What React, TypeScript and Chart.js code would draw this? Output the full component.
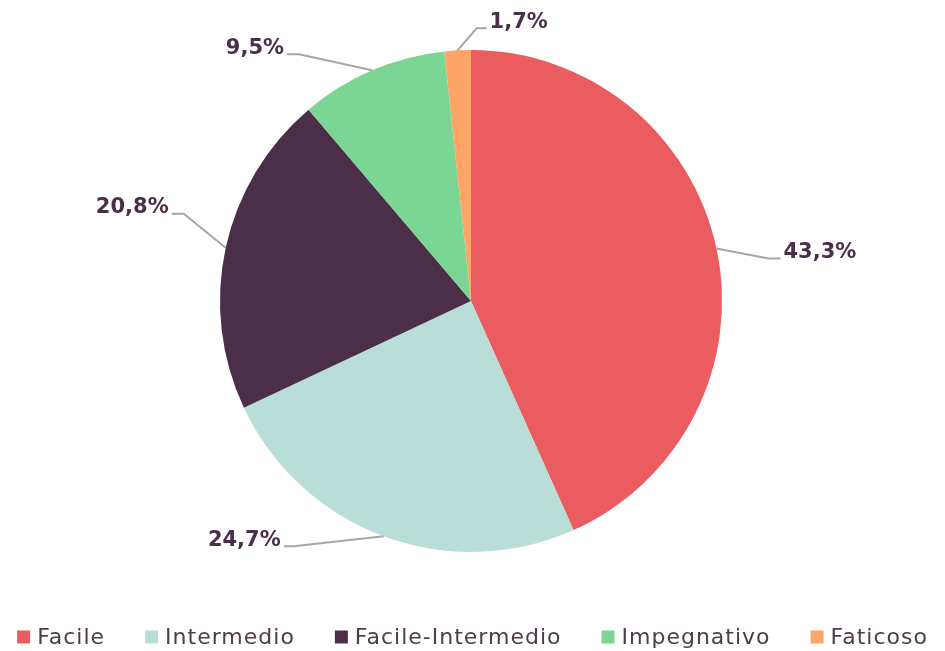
import React, { useEffect, useRef } from "react";
import { Chart, registerables } from "chart.js";

Chart.register(...registerables);

const categories = ["Facile", "Intermedio", "Facile-Intermedio", "Impegnativo", "Faticoso"];
const values = [43.3, 24.7, 20.8, 9.5, 1.7];
const valueLabels = ["43,3%", "24,7%", "20,8%", "9,5%", "1,7%"];
const colors = ["#EA5C5F", "#B8DED7", "#4B2F48", "#7BD594", "#FDA567"];

// leader-line layout (elbow offset from slice edge, tail length and side)
const leaderDx = [52, -90, -42, -73, 19];
const leaderDy = [10, 10, -34, -16, -22];
const leaderTail = [12, 10, 12, 12, 10];
const leaderSide = [1, -1, -1, -1, 1];

const TEXT_COLOR = "#4A2F48";
const LEGEND_COLOR = "#4E3D4C";

const labelPlugin = {
  id: "leaderLabels",
  afterDatasetsDraw(chart: any) {
    const ctx = chart.ctx;
    const meta = chart.getDatasetMeta(0);
    ctx.save();
    try {
      (ctx as any).letterSpacing = "0px";
    } catch (e) {}
    meta.data.forEach((arc: any, i: number) => {
      const { x, y, startAngle, endAngle, outerRadius } = arc.getProps(
        ["x", "y", "startAngle", "endAngle", "outerRadius"],
        true
      );
      const mid = (startAngle + endAngle) / 2;
      const ex = x + Math.cos(mid) * outerRadius;
      const ey = y + Math.sin(mid) * outerRadius;
      const bx = ex + leaderDx[i];
      const by = ey + leaderDy[i];
      const tx = bx + leaderSide[i] * leaderTail[i];
      ctx.beginPath();
      ctx.moveTo(ex, ey);
      ctx.lineTo(bx, by);
      ctx.lineTo(tx, by);
      ctx.strokeStyle = "#A6A6A6";
      ctx.lineWidth = 2;
      ctx.stroke();
      ctx.font = "bold 21px 'DejaVu Sans'";
      ctx.fillStyle = TEXT_COLOR;
      ctx.textBaseline = "middle";
      ctx.textAlign = leaderSide[i] > 0 ? "left" : "right";
      ctx.fillText(valueLabels[i], tx + leaderSide[i] * 3, by - 6);
    });
    ctx.restore();
  },
};

const legendPlugin = {
  id: "customLegend",
  afterDraw(chart: any) {
    const ctx = chart.ctx;
    ctx.save();
    ctx.font = "22px 'DejaVu Sans'";
    try {
      (ctx as any).letterSpacing = "1px";
    } catch (e) {}
    const box = 13;
    const boxGap = 7;
    const itemGap = 40;
    const widths = categories.map((c) => ctx.measureText(c).width);
    const total =
      widths.reduce((a, b) => a + b, 0) +
      categories.length * (box + boxGap) +
      (categories.length - 1) * itemGap;
    let x = (chart.width - total) / 2;
    const yMid = 637;
    categories.forEach((c, i) => {
      ctx.fillStyle = colors[i];
      ctx.fillRect(x, yMid - box / 2, box, box);
      x += box + boxGap;
      ctx.fillStyle = LEGEND_COLOR;
      ctx.textBaseline = "middle";
      ctx.textAlign = "left";
      ctx.fillText(c, x, yMid + 1);
      x += widths[i] + itemGap;
    });
    try {
      (ctx as any).letterSpacing = "0px";
    } catch (e) {}
    ctx.restore();
  },
};

export default function App() {
  const ref = useRef<HTMLCanvasElement>(null);
  useEffect(() => {
    if (!ref.current) return;
    const chart = new Chart(ref.current, {
      type: "pie",
      data: {
        labels: categories,
        datasets: [
          {
            data: values,
            backgroundColor: colors,
            borderWidth: 0,
          },
        ],
      },
      options: {
        responsive: false,
        animation: false,
        devicePixelRatio: 1,
        layout: { padding: { top: 50, bottom: 99, left: 0, right: 3 } },
        plugins: {
          legend: { display: false },
          tooltip: { enabled: false },
        },
      },
      plugins: [labelPlugin, legendPlugin],
    });
    return () => chart.destroy();
  }, []);
  return (
    <div style={{ position: "absolute", left: 0, top: 0, width: 945, height: 651, background: "#fff" }}>
      <canvas ref={ref} width={945} height={651} />
    </div>
  );
}
